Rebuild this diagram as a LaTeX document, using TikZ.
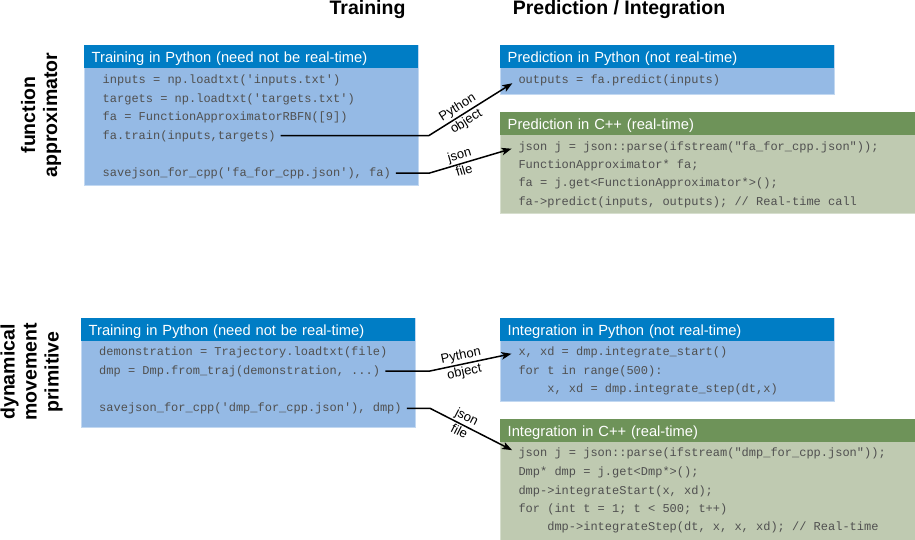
\documentclass[tikz,border=0pt]{standalone}
\usepackage{fontspec}
\setmainfont{Liberation Sans}
\setmonofont{Liberation Mono}
\usetikzlibrary{arrows.meta}

\definecolor{pyDark}{HTML}{007DC5}
\definecolor{pyLight}{HTML}{95BAE5}
\definecolor{pyEdge}{HTML}{C2D8F1}
\definecolor{cppDark}{HTML}{6E9359}
\definecolor{cppLight}{HTML}{BFCAB1}
\definecolor{cppEdge}{HTML}{D6DECD}
\definecolor{codegray}{HTML}{505050}

\newcommand\codefont{\ttfamily\fontsize{12}{14}\selectfont}
\newcommand\headfont{\fontsize{14.7}{17}\selectfont}
\newcommand\titlefont{\bfseries\fontsize{19.5}{22}\selectfont}
\newcommand\lblfont{\fontsize{13}{15}\selectfont}

\tikzset{
  pybody/.style={anchor=north west, inner sep=0pt, fill=pyLight, draw=pyEdge, line width=0.7pt},
  cppbody/.style={anchor=north west, inner sep=0pt, fill=cppLight, draw=cppEdge, line width=0.7pt},
  head/.style={anchor=north west, inner xsep=7.5pt, inner ysep=0pt, minimum height=23pt,
    text height=13pt, text depth=2pt, align=left, text=white, font=\headfont},
  pyhead/.style={head, fill=pyDark},
  cpphead/.style={head, fill=cppDark},
  code/.style={anchor=base west, inner sep=0pt, text height=9.5pt, text depth=2.5pt,
    text=codegray, font=\codefont},
  title/.style={anchor=base, inner sep=0pt, font=\titlefont},
  side/.style={rotate=90, align=center, inner sep=0pt, font=\titlefont},
  conn/.style={line width=1.5pt, -{Stealth[length=10pt,width=7.5pt,inset=2.5pt]},
    shorten <=5pt, shorten >=7pt},
  lblup/.style={sloped, above, pos=0.37, inner sep=1.5pt, font=\lblfont},
  lbldn/.style={sloped, below, pos=0.37, inner sep=1.5pt, font=\lblfont},
}

\begin{document}
\begin{tikzpicture}[x=1pt, y=-1pt]
\useasboundingbox (0,0) rectangle (915,539);

% column titles
\node[title] (ttrain) at (367.5,14.5) {Training};
\node[title] (tpred) at (619,14.5) {Prediction / Integration};

% row labels
\node[side] (rowfa) at (41,115) {function\\approximator};
\node[side] (rowdmp) at (31.5,372) {dynamical\\movement\\primitive};

% ---------- function approximator ----------
\node[pybody, minimum width=334pt, minimum height=140pt] (trainfa) at (84,45) {};
\node[pyhead, text width=319pt] (trainfahead) at (84,45) {Training in Python (need not be real-time)};
\node[code] (fa1) at (102.5,83.3) {inputs = np.loadtxt('inputs.txt')};
\node[code] (fa2) at (102.5,102.3) {targets = np.loadtxt('targets.txt')};
\node[code] (fa3) at (102.5,120.7) {fa = FunctionApproximatorRBFN([9])};
\node[code] (ftrain) at (102.5,139) {fa.train(inputs,targets)};
\node[code] (fsave) at (102.5,176.7) {savejson\_for\_cpp('fa\_for\_cpp.json'), fa)};

\node[pybody, minimum width=334pt, minimum height=49pt] (predpy) at (500,45) {};
\node[pyhead, text width=319pt] (predpyhead) at (500,45) {Prediction in Python (not real-time)};
\node[code] (outputs) at (518.3,83) {outputs = fa.predict(inputs)};

\node[cppbody, minimum width=418pt, minimum height=101pt] (predcpp) at (500,112) {};
\node[cpphead, text width=403pt] (predcpphead) at (500,112) {Prediction in C++ (real-time)};
\node[code] (pc1) at (518.3,150.2) {json j = json::parse(ifstream("fa\_for\_cpp.json"));};
\node[code] (pc2) at (518.3,168.5) {FunctionApproximator* fa;};
\node[code] (pc3) at (518.3,186.8) {fa = j.get<FunctionApproximator*>();};
\node[code] (pc4) at (518.3,205.2) {fa->predict(inputs, outputs); // Real-time call};

% ---------- dynamical movement primitive ----------
\node[pybody, minimum width=334pt, minimum height=109pt] (traindmp) at (81,318) {};
\node[pyhead, text width=319pt] (traindmphead) at (81,318) {Training in Python (need not be real-time)};
\node[code] (dm1) at (99,355.8) {demonstration = Trajectory.loadtxt(file)};
\node[code] (dfrom) at (99,374.5) {dmp = Dmp.from\_traj(demonstration, ...)};
\node[code] (dsave) at (99,411.8) {savejson\_for\_cpp('dmp\_for\_cpp.json'), dmp)};

\node[pybody, minimum width=334pt, minimum height=83pt] (intpy) at (500,318) {};
\node[pyhead, text width=319pt] (intpyhead) at (500,318) {Integration in Python (not real-time)};
\node[code] (ip1) at (518.3,355.8) {x, xd = dmp.integrate\_start()};
\node[code] (ip2) at (518.3,374.5) {for t in range(500):};
\node[code] (ip3) at (547.1,392.8) {x, xd = dmp.integrate\_step(dt,x)};

\node[cppbody, minimum width=418pt, minimum height=124pt] (intcpp) at (500,419) {};
\node[cpphead, text width=403pt] (intcpphead) at (500,419) {Integration in C++ (real-time)};
\node[code] (ic1) at (518.3,456.8) {json j = json::parse(ifstream("dmp\_for\_cpp.json"));};
\node[code] (ic2) at (518.3,475.8) {Dmp* dmp = j.get<Dmp*>();};
\node[code] (ic3) at (518.3,494.2) {dmp->integrateStart(x, xd);};
\node[code] (ic4) at (518.3,512.5) {for (int t = 1; t < 500; t++)};
\node[code] (ic5) at (547.1,530.8) {dmp->integrateStep(dt, x, x, xd); // Real-time};

% ---------- connectors ----------
\coordinate (kinkA) at (429,0);
\coordinate (kinkB) at (430,0);

\draw[conn] (ftrain.east) -- (ftrain.east -| kinkA)
  -- node[lblup]{Python} node[lbldn]{object} (outputs.west);
\draw[conn] (fsave.east) -- (fsave.east -| kinkA)
  -- node[lblup]{json} node[lbldn]{file} (pc1.west);
\draw[conn] (dfrom.east) -- (dfrom.east -| kinkB)
  -- node[lblup]{Python} node[lbldn]{object} (ip1.west);
\draw[conn] (dsave.east) -- (dsave.east -| kinkB)
  -- node[lblup]{json} node[lbldn]{file} (ic1.west);
\end{tikzpicture}
\end{document}
